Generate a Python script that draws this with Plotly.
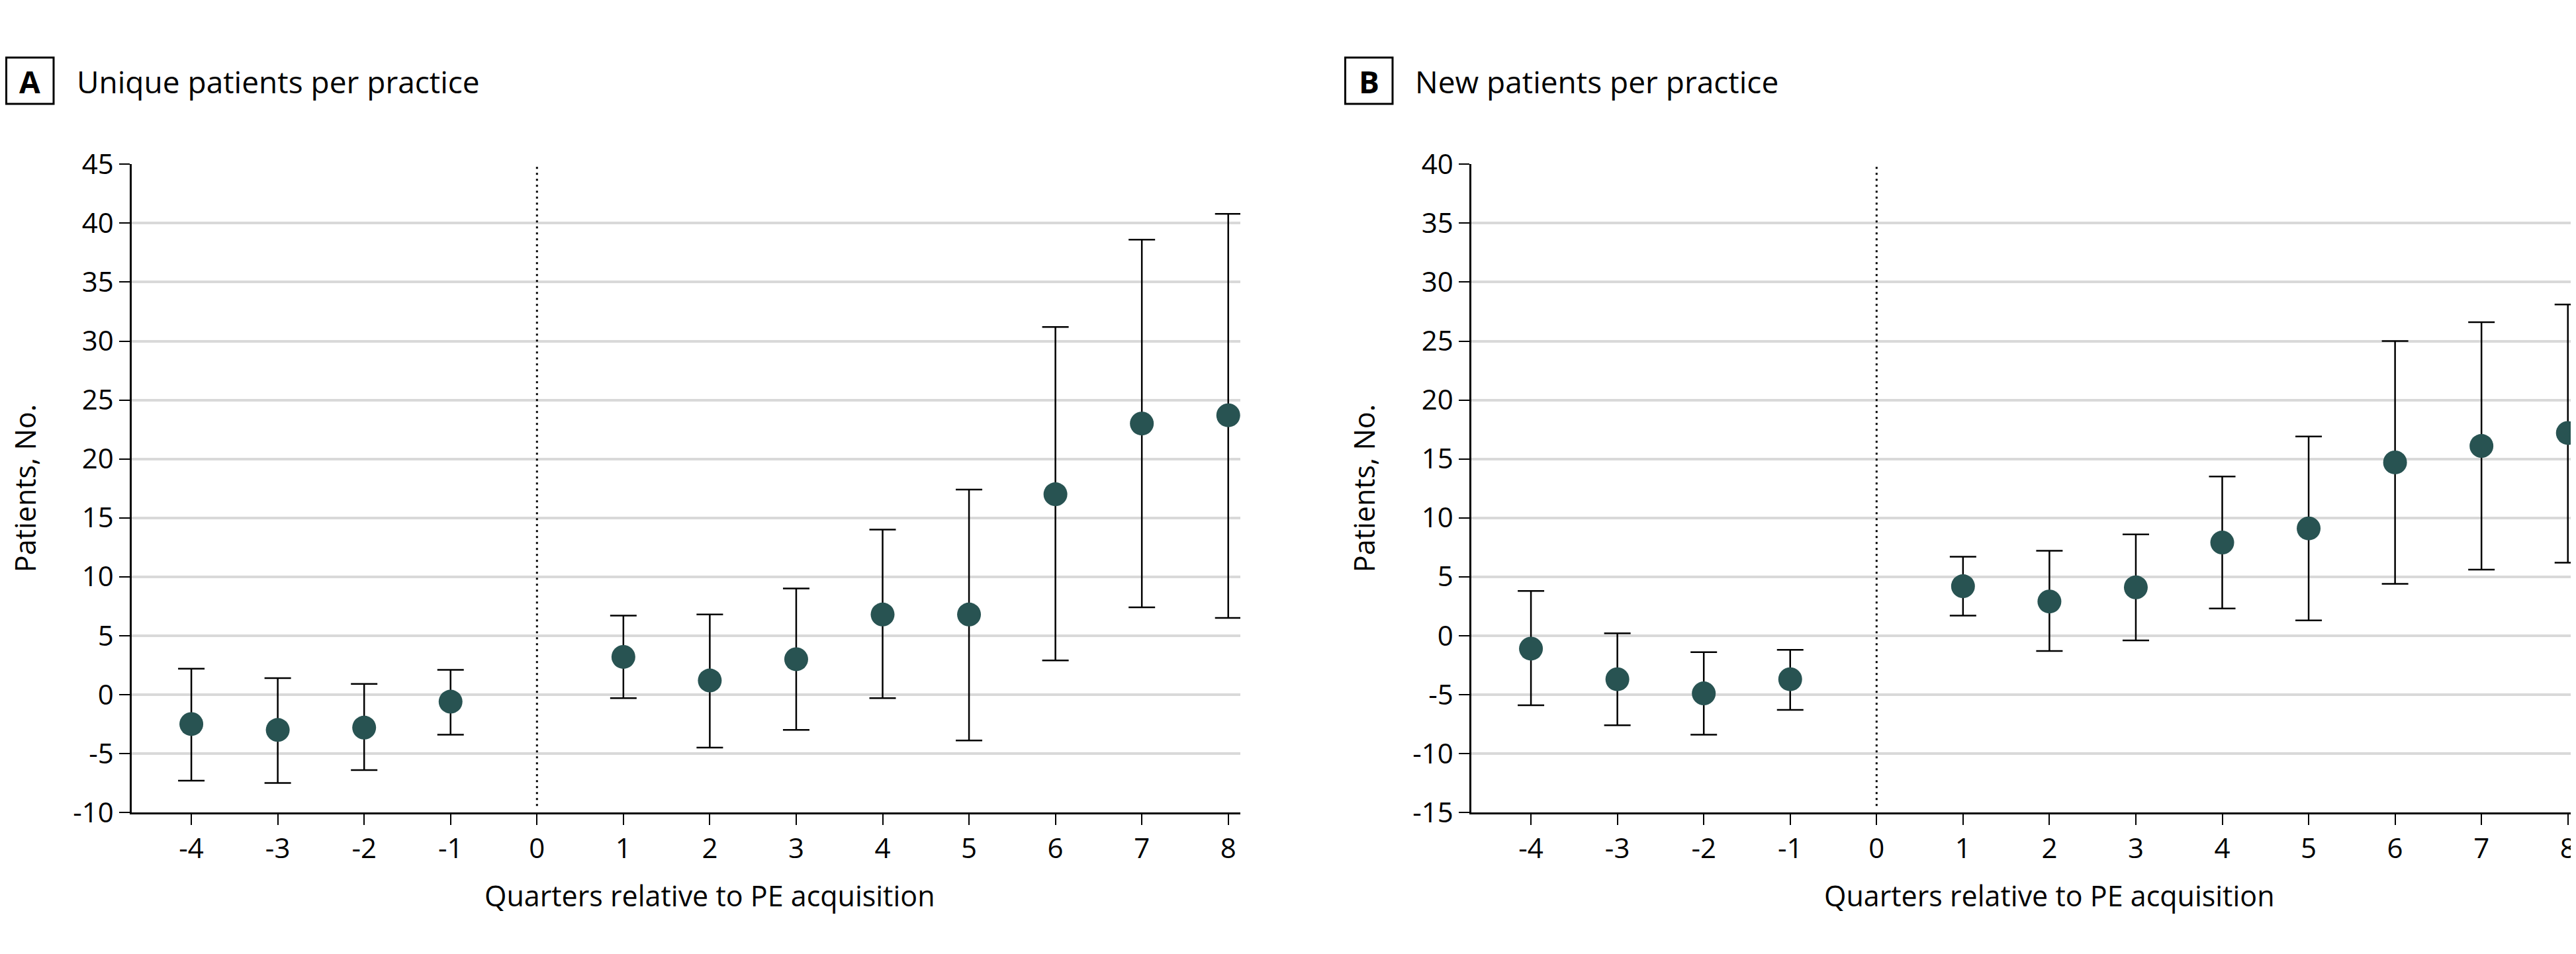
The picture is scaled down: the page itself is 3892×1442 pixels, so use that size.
import plotly.graph_objects as go

# ---------------- data ----------------
quarters = [-4, -3, -2, -1, 1, 2, 3, 4, 5, 6, 7, 8]

unique_est = [-2.5, -3.0, -2.8, -0.6, 3.2, 1.2, 3.0, 6.8, 6.8, 17.0, 23.0, 23.7]
unique_lo = [-7.3, -7.5, -6.4, -3.4, -0.3, -4.5, -3.0, -0.3, -3.9, 2.9, 7.4, 6.5]
unique_hi = [2.2, 1.4, 0.9, 2.1, 6.7, 6.8, 9.0, 14.0, 17.4, 31.2, 38.6, 40.8]

new_est = [-1.1, -3.7, -4.9, -3.7, 4.2, 2.9, 4.1, 7.9, 9.1, 14.7, 16.1, 17.2]
new_lo = [-5.9, -7.6, -8.4, -6.3, 1.7, -1.3, -0.4, 2.3, 1.3, 4.4, 5.6, 6.2]
new_hi = [3.8, 0.2, -1.4, -1.2, 6.7, 7.2, 8.6, 13.5, 16.9, 25.0, 26.6, 28.1]

x_ticks = [-4, -3, -2, -1, 0, 1, 2, 3, 4, 5, 6, 7, 8]
x_ticktext = ["-4", "-3", "-2", "-1", "0", "1", "2", "3", "4", "5", "6", "7", "8"]
yA_ticks = [-10, -5, 0, 5, 10, 15, 20, 25, 30, 35, 40, 45]
yB_ticks = [-15, -10, -5, 0, 5, 10, 15, 20, 25, 30, 35, 40]

panel_titles = ["Unique patients per practice", "New patients per practice"]
panel_letters = ["A", "B"]
x_title = "Quarters relative to PE acquisition"
y_title = "Patients, No."

# ---------------- styling ----------------
W, H = 3892, 1442
FONT = "Open Sans"
MARKER_COLOR = "#285352"
GRID = "#d9d9d9"


def px_x(p):
    return p / W


def px_y(p):
    return (H - p) / H


fig = go.Figure()


def add_panel(est, lo, hi, xa, ya):
    plus = [h - e for h, e in zip(hi, est)]
    minus = [e - l for e, l in zip(est, lo)]
    fig.add_trace(go.Scatter(
        x=quarters, y=est, mode="markers",
        marker=dict(size=36, color=MARKER_COLOR, line=dict(width=0)),
        error_y=dict(type="data", symmetric=False, array=plus, arrayminus=minus,
                     color="black", thickness=2.5, width=20),
        xaxis=xa, yaxis=ya, showlegend=False, hoverinfo="skip",
        cliponaxis=False,
    ))


add_panel(unique_est, unique_lo, unique_hi, "x", "y")
add_panel(new_est, new_lo, new_hi, "x2", "y2")

x_range = [-4.69, 8.14]
common_x = dict(
    range=x_range, tickmode="array", tickvals=x_ticks, ticktext=x_ticktext,
    showgrid=False, zeroline=False, showline=True, linecolor="black", linewidth=3,
    ticks="outside", ticklen=16, tickwidth=2, tickcolor="black",
    tickfont=dict(family=FONT, size=42, color="black"), fixedrange=True,
)
common_y = dict(
    showgrid=True, gridcolor=GRID, gridwidth=3.5, zeroline=False,
    showline=True, linecolor="black", linewidth=2.5,
    ticks="outside", ticklen=16, tickwidth=2, tickcolor="black",
    tickfont=dict(family=FONT, size=42, color="black"), fixedrange=True,
)

dA = [px_x(191), px_x(1866)]
dB = [px_x(2215), px_x(3890)]
dY = [px_y(1239), px_y(219)]

fig.update_layout(
    width=W, height=H,
    margin=dict(l=0, r=0, t=0, b=0),
    paper_bgcolor="white", plot_bgcolor="white",
    xaxis=dict(domain=dA, anchor="y", **common_x),
    yaxis=dict(domain=dY, anchor="x", range=[-10, 45], tickmode="array",
               tickvals=yA_ticks, ticktext=[str(v) for v in yA_ticks], **common_y),
    xaxis2=dict(domain=dB, anchor="y2", **common_x),
    yaxis2=dict(domain=dY, anchor="x2", range=[-15, 40], tickmode="array",
                tickvals=yB_ticks, ticktext=[str(v) for v in yB_ticks], **common_y),
)

# dotted reference line at 0
for xr, yr, ylo, yhi in (("x", "y", -9.45, 45), ("x2", "y2", -14.45, 40)):
    fig.add_shape(type="line", xref=xr, yref=yr, x0=0, x1=0, y0=ylo, y1=yhi,
                  line=dict(color="black", width=3, dash="3px,6px"), layer="above")

annotations = []
# panel letters boxes & titles
for letter, title, bx, tx in ((panel_letters[0], panel_titles[0], 0, 106),
                              (panel_letters[1], panel_titles[1], 2023, 2128)):
    fig.add_shape(type="rect", xref="paper", yref="paper",
                  x0=px_x(bx + 1.5), x1=px_x(bx + 73), y0=px_y(124), y1=px_y(51),
                  line=dict(color="black", width=3), fillcolor="rgba(0,0,0,0)")
    annotations.append(dict(xref="paper", yref="paper", x=px_x(bx + 37), y=px_y(88),
                            text="<b>%s</b>" % letter, showarrow=False,
                            xanchor="center", yanchor="middle",
                            font=dict(family=FONT, size=46, color="black")))
    annotations.append(dict(xref="paper", yref="paper", x=px_x(tx), y=px_y(88),
                            text=title, showarrow=False,
                            xanchor="left", yanchor="middle",
                            font=dict(family=FONT, size=46, color="black")))

# axis titles
for xr, ytx in (("x", 29), ("x2", 2052)):
    annotations.append(dict(xref=xr, yref="paper", x=2, y=px_y(1370), text=x_title,
                            showarrow=False, xanchor="center", yanchor="middle",
                            font=dict(family=FONT, size=43, color="black")))
    annotations.append(dict(xref="paper", yref="paper", x=px_x(ytx), y=px_y(729),
                            text=y_title, showarrow=False, textangle=-90,
                            xanchor="center", yanchor="middle",
                            font=dict(family=FONT, size=43, color="black")))

fig.update_layout(annotations=annotations)

fig.write_html("out.html")
